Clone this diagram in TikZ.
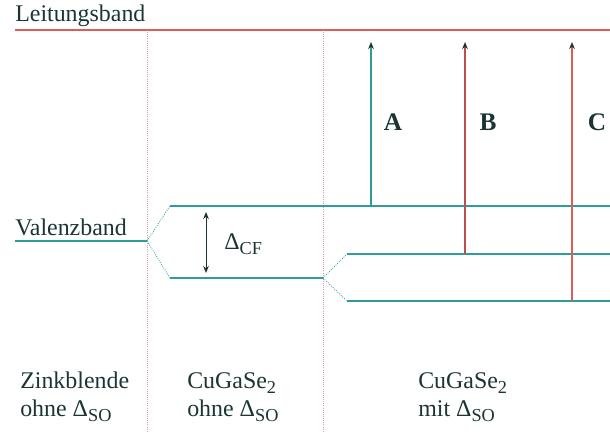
\documentclass[tikz,border=0pt]{standalone}
\usepackage{fontspec}
\setmainfont{Liberation Serif}
\usetikzlibrary{arrows.meta, positioning}
\definecolor{bandteal}{HTML}{2E9C9A}
\definecolor{bandred}{HTML}{E05A5A}
\definecolor{arrowred}{HTML}{B85050}
\definecolor{dividerpink}{HTML}{D9A0A0}
\definecolor{textdark}{HTML}{1C3434}
\newcommand{\lowsub}[1]{\raisebox{-0.45ex}{\fontsize{13}{14}\selectfont #1}}

\begin{document}
\begin{tikzpicture}[
    x=0.025cm, y=-0.025cm,
    >={Stealth[length=5pt, width=4pt, color=textdark]},
    label/.style={font=\fontsize{17}{20}\selectfont, text=textdark, inner sep=0pt},
    letter/.style={font=\fontsize{18}{20}\selectfont\bfseries, text=textdark, inner sep=0pt},
    cband/.style={draw=bandred, line width=0.8pt},
    vband/.style={draw=bandteal, line width=0.8pt},
    split/.style={draw=bandteal, line width=0.6pt, densely dotted},
    divider/.style={draw=dividerpink, line width=0.5pt, densely dotted},
    trans/.style={->, line width=0.8pt}
]
\useasboundingbox (0,0) rectangle (610,432);

% band labels
\node[label, anchor=base west] (leitung) at (15,22) {Leitungsband};
\node[label, anchor=base west] (valenz) at (15,236) {Valenzband};

% conduction band
\coordinate (cb-start) at (15,30);
\coordinate (cb-end) at (610,30);
\draw[cband] (cb-start) -- (cb-end);

% column dividers
\coordinate (div1-top) at (147,30);
\coordinate (div1-bot) at (147,432);
\coordinate (div2-top) at (323,30);
\coordinate (div2-bot) at (323,432);
\draw[divider] (div1-top) -- (div1-bot);
\draw[divider] (div2-top) -- (div2-bot);

% valence band, zincblende
\coordinate (vb-start) at (15,241);
\coordinate (vb-split) at (147,241);
\draw[vband] (vb-start) -- (vb-split);

% crystal field splitting
\coordinate (cf-up) at (170,206);
\coordinate (cf-low) at (170,278);
\coordinate (cf-up-end) at (610,206);
\coordinate (cf-low-end) at (323,278);
\draw[split] (vb-split) -- (cf-up);
\draw[split] (vb-split) -- (cf-low);
\draw[vband] (cf-up) -- (cf-up-end);
\draw[vband] (cf-low) -- (cf-low-end);

% spin-orbit splitting
\coordinate (so-up) at (347,254);
\coordinate (so-low) at (347,301);
\coordinate (so-up-end) at (610,254);
\coordinate (so-low-end) at (610,301);
\draw[split] (cf-low-end) -- (so-up);
\draw[split] (cf-low-end) -- (so-low);
\draw[vband] (so-up) -- (so-up-end);
\draw[vband] (so-low) -- (so-low-end);

% Delta CF
\coordinate (dcf-top) at (206,212);
\coordinate (dcf-bot) at (206,273);
\draw[<->, line width=0.7pt, textdark] (dcf-top) -- (dcf-bot);
\node[label, anchor=west] (dcf) at (224,244) {Δ\lowsub{CF}};

% transitions
\coordinate (a-foot) at (371,206);
\coordinate (a-head) at (371,42);
\coordinate (b-foot) at (465,254);
\coordinate (b-head) at (465,42);
\coordinate (c-foot) at (572,301);
\coordinate (c-head) at (572,42);
\draw[trans, bandteal] (a-foot) -- (a-head);
\draw[trans, arrowred] (b-foot) -- (b-head);
\draw[trans, bandred] (c-foot) -- (c-head);
\node[letter] (A) at (393,122) {A};
\node[letter] (B) at (488,122) {B};
\node[letter] (C) at (597,122) {C};

% column captions
\node[label, anchor=north west, align=left] (zb) at (20,372) {Zinkblende\\ohne Δ\lowsub{SO}};
\node[label, anchor=north west, align=left] (cgs1) at (187,372) {CuGaSe\lowsub{2}\\ohne Δ\lowsub{SO}};
\node[label, anchor=north west, align=left] (cgs2) at (418,372) {CuGaSe\lowsub{2}\\mit Δ\lowsub{SO}};

\end{tikzpicture}
\end{document}
